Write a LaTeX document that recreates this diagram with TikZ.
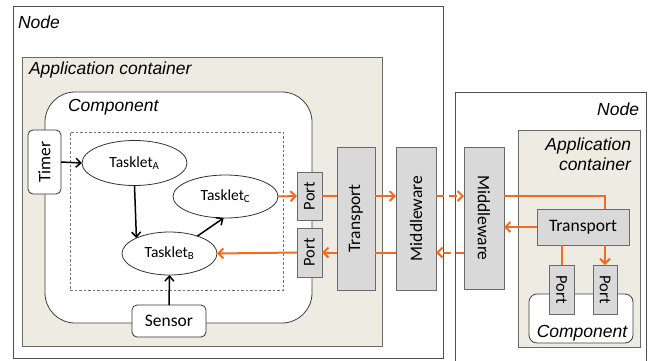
\documentclass[tikz,border=0pt]{standalone}
\usepackage{fontspec}
\usepackage{graphicx}
\setmainfont{Carlito}
\newfontfamily\arialf{Liberation Sans}
\usetikzlibrary{arrows.meta,shapes.geometric}
\definecolor{myorange}{RGB}{240,108,35}
\definecolor{beige}{RGB}{237,235,226}
\definecolor{boxgray}{RGB}{217,217,217}
\definecolor{edgegray}{RGB}{105,105,105}
\definecolor{darkedge}{RGB}{80,80,80}
\begin{document}
\begin{tikzpicture}[x=1pt,y=-1pt,
  nodebox/.style={draw=darkedge, line width=0.8pt, inner sep=0pt, outer sep=0pt},
  container/.style={draw=edgegray, fill=beige, line width=0.8pt, inner sep=0pt, outer sep=0pt},
  compbox/.style={draw=black!75, fill=white, line width=0.8pt, inner sep=0pt, outer sep=0pt},
  dashbox/.style={draw=black!55, dash pattern=on 2.5pt off 2pt, line width=0.7pt, inner sep=0pt, outer sep=0pt},
  gbox/.style={draw=edgegray, fill=boxgray, line width=0.8pt, inner sep=0pt, outer sep=0pt, font=\fontsize{17.5}{20}\selectfont},
  pbox/.style={gbox, font=\fontsize{16.5}{20}\selectfont},
  wbox/.style={draw=black!80, fill=white, line width=0.8pt, rounded corners=5pt, inner sep=0pt, outer sep=0pt, font=\fontsize{17.5}{20}\selectfont},
  task/.style={ellipse, draw=black!80, fill=white, line width=0.8pt, inner sep=0pt, outer sep=0pt, font=\fontsize{15.5}{18}\selectfont},
  lbl/.style={font=\arialf\itshape\fontsize{17.5}{20}\selectfont, inner sep=0pt, outer sep=0pt},
  oline/.style={draw=myorange, line width=2pt},
  oarrow/.style={oline, -{Straight Barb[length=5pt,width=10pt]}},
  odash/.style={oarrow, dash pattern=on 8pt off 5pt},
  barrow/.style={draw=black, line width=1.5pt, -{Straight Barb[length=5pt,width=9pt]}}
]
\useasboundingbox (0,0) rectangle (648,360);
\clip (0,0) rectangle (648,360);

% left node
\node[nodebox, minimum width=430, minimum height=352] (nodeL) at (228,182.5) {};
\node[container, minimum width=360, minimum height=289] (appL) at (202,201.5) {};
\node[compbox, rounded corners=30pt, minimum width=267, minimum height=231] (compL) at (178.5,207.5) {};
\node[dashbox, minimum width=213, minimum height=158] (grp) at (176.5,211) {};

% right node
\node[nodebox, minimum width=191, minimum height=290] (nodeR) at (550.5,237) {};
\node[container, minimum width=122, minimum height=217] (appR) at (579,238.5) {};
\node[compbox, rounded corners=8pt, minimum width=104, minimum height=49] (compR) at (581,318.5) {};

% labels
\node[lbl, anchor=base west] (lNodeL) at (18,28.5) {Node};
\node[lbl, anchor=base west] (lAppL) at (29,74) {Application container};
\node[lbl, anchor=base west] (lCompL) at (68,111.5) {Component};
\node[lbl, anchor=base east] (lNodeR) at (639,115) {Node};
\node[lbl, anchor=base east] (lAppR1) at (631,150) {Application};
\node[lbl, anchor=base east] (lAppR2) at (631,170) {container};
\node[lbl, anchor=base] (lCompR) at (582,337) {Component};

% left component content
\node[wbox, minimum width=33, minimum height=64] (timer) at (44.5,162) {\rotatebox{90}{Timer}};
\node[task, minimum width=105, minimum height=45] (tA) at (134.5,163) {Tasklet\textsubscript{A}};
\node[task, minimum width=105, minimum height=43] (tC) at (225.5,196.5) {Tasklet\textsubscript{C}};
\node[task, minimum width=95, minimum height=43] (tB) at (169.5,253.5) {Tasklet\textsubscript{B}};
\node[wbox, minimum width=74, minimum height=32] (sensor) at (169,321) {Sensor};
\node[pbox, minimum width=25, minimum height=48] (pL1) at (309.5,196) {\rotatebox{90}{Port}};
\node[pbox, minimum width=25, minimum height=49] (pL2) at (309.5,252.5) {\rotatebox{90}{Port}};
\node[gbox, minimum width=38, minimum height=143] (trL) at (356,218.5) {\rotatebox{90}{Transport}};
\node[gbox, minimum width=40, minimum height=143] (mwL) at (416,218.5) {\rotatebox{90}{Middleware}};

% right side content
\node[gbox, minimum width=40, minimum height=142] (mwR) at (484,218) {\rotatebox{-90}{Middleware}};
\node[gbox, minimum width=92, minimum height=36] (trR) at (583,227) {Transport};
\node[pbox, minimum width=25, minimum height=49] (pRa) at (561.5,289.5) {\rotatebox{-90}{Port}};
\node[pbox, minimum width=24, minimum height=49] (pRb) at (605,289.5) {\rotatebox{-90}{Port}};

% black arrows
\draw[barrow] (timer.east) -- (tA.west);
\draw[barrow] (tA.south) -- (tB.155);
\draw[barrow] (tB.32) -- (tC.265);
\draw[barrow] (sensor.north) -- (tB.south);

% orange flows (outgoing)
\draw[oarrow] (tC.east) -- (pL1.west);
\draw[oline] (pL1.east) -- (trL.west |- pL1.east);
\draw[oarrow] (trL.east |- pL1.east) -- (mwL.west |- pL1.east);
\draw[odash] (mwL.east |- pL1.east) -- (mwR.west |- pL1.east);
\draw[oline] (mwR.east |- pL1.east) -| (trR.north -| pRb.north);
\draw[oline] (trR.south -| pRa.north) -- (pRa.north);
\draw[oarrow] (trR.south -| pRb.north) -- (pRb.north);

% orange flows (incoming)
\draw[oarrow] (trR.west) -- (mwR.east |- trR.west);
\draw[odash] (mwR.west |- pL2.east) -- (mwL.east |- pL2.east);
\draw[oline] (mwL.west |- pL2.east) -- (trL.east |- pL2.east);
\draw[oarrow] (trL.west |- pL2.east) -- (pL2.east);
\draw[oarrow] (pL2.west) -- (tB.east);
\end{tikzpicture}
\end{document}
